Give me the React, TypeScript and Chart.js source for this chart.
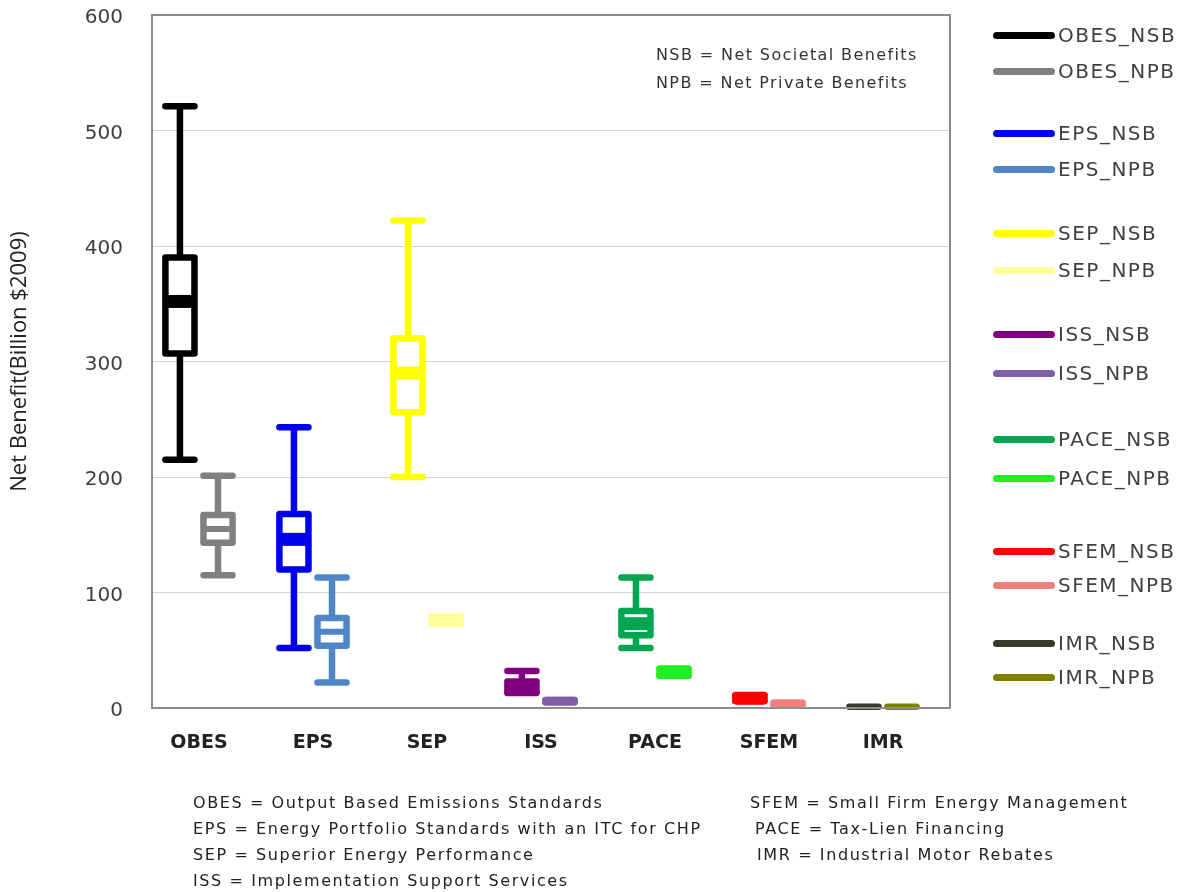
import React, { useEffect, useRef } from "react";
import { Chart, registerables } from "chart.js";

Chart.register(...registerables);

// ---------- data ----------
const categories = ["OBES", "EPS", "SEP", "ISS", "PACE", "SFEM", "IMR"];
const yTickValues = [0, 100, 200, 300, 400, 500, 600];

// Net Societal Benefits (NSB) box statistics, Billion $2009
const nsbMin = [215, 52, 200, 13, 52, 6, 1];
const nsbQ1 = [307, 120, 256, 14, 63, 6, 1];
const nsbMedian = [352, 146, 290, 18, 73, 8.5, 1];
const nsbQ3 = [390, 168, 320, 23, 84, 11, 1];
const nsbMax = [521, 243, 422, 32, 113, 11, 1];

// Net Private Benefits (NPB) box statistics, Billion $2009
const npbMin = [115, 22, 73, 5, 28, 2.5, 1];
const npbQ1 = [143, 54, 73, 5, 28, 2.5, 1];
const npbMedian = [155, 66, 76, 6, 31, 3.5, 1];
const npbQ3 = [167, 78, 79, 7, 34, 4.5, 1];
const npbMax = [201, 113, 79, 7, 34, 4.5, 1];

const nsbColors = ["#000000", "#0000EE", "#FFFF00", "#800080", "#00A650", "#FF0000", "#3A3A2A"];
const npbColors = ["#808080", "#4F86C6", "#FFFF99", "#7F5FA8", "#22EE22", "#F08080", "#808000"];

const legendTops = [35, 71, 133, 169, 233, 270, 334, 373, 439, 478, 551, 585, 643, 677];

const notes = ["NSB = Net Societal Benefits", "NPB = Net Private Benefits"];
const defsLeft = [
  "OBES = Output Based Emissions Standards",
  "EPS = Energy Portfolio Standards with an ITC for CHP",
  "SEP = Superior Energy Performance",
  "ISS = Implementation Support Services",
];
const defsRight = [
  "SFEM = Small Firm Energy Management",
  "PACE = Tax-Lien Financing",
  "IMR = Industrial Motor Rebates",
];

// ---------- layout constants ----------
const W = 1189;
const H = 892;
const NSB_OFFSET = -0.167;
const NPB_OFFSET = 0.167;
const BOX_W = 0.255;
const STROKE = 6.5;

const boxPlugin = {
  id: "boxplots",
  afterDatasetsDraw(chart: any) {
    const { ctx, scales, chartArea } = chart;
    const x = scales.x;
    const y = scales.y;
    const drawBox = (
      i: number,
      off: number,
      mn: number,
      q1: number,
      md: number,
      q3: number,
      mx: number,
      color: string,
      medW: number
    ) => {
      const cx = x.getPixelForValue(i + off);
      const half = (x.getPixelForValue(i + off + BOX_W / 2) - x.getPixelForValue(i + off - BOX_W / 2)) / 2;
      const pMin = y.getPixelForValue(mn);
      const pQ1 = y.getPixelForValue(q1);
      const pMd = y.getPixelForValue(md);
      const pQ3 = y.getPixelForValue(q3);
      const pMax = y.getPixelForValue(mx);
      ctx.save();
      ctx.strokeStyle = color;
      ctx.lineWidth = STROKE;
      ctx.lineCap = "round";
      ctx.lineJoin = "round";
      // whiskers
      ctx.beginPath();
      ctx.moveTo(cx, pMax);
      ctx.lineTo(cx, pQ3);
      ctx.moveTo(cx, pQ1);
      ctx.lineTo(cx, pMin);
      ctx.moveTo(cx - half, pMax);
      ctx.lineTo(cx + half, pMax);
      ctx.moveTo(cx - half, pMin);
      ctx.lineTo(cx + half, pMin);
      ctx.stroke();
      if (q3 > q1) {
        // box
        ctx.fillStyle = "#ffffff";
        ctx.fillRect(cx - half, pQ3, 2 * half, pQ1 - pQ3);
        ctx.lineCap = "butt";
        ctx.strokeRect(cx - half, pQ3, 2 * half, pQ1 - pQ3);
        // median
        ctx.lineWidth = medW;
        ctx.beginPath();
        ctx.moveTo(cx - half, pMd);
        ctx.lineTo(cx + half, pMd);
        ctx.stroke();
      }
      ctx.restore();
    };
    categories.forEach((_, i) => {
      drawBox(i, NSB_OFFSET, nsbMin[i], nsbQ1[i], nsbMedian[i], nsbQ3[i], nsbMax[i], nsbColors[i], 13);
      drawBox(i, NPB_OFFSET, npbMin[i], npbQ1[i], npbMedian[i], npbQ3[i], npbMax[i], npbColors[i], 6);
    });
    // plot-area frame
    ctx.save();
    ctx.strokeStyle = "#8c8c8c";
    ctx.lineWidth = 2;
    ctx.strokeRect(chartArea.left, chartArea.top, chartArea.right - chartArea.left, chartArea.bottom - chartArea.top);
    ctx.restore();
  },
};

function ChartCanvas() {
  const ref = useRef<HTMLCanvasElement | null>(null);
  useEffect(() => {
    if (!ref.current) return;
    const chart = new Chart(ref.current, {
      type: "scatter",
      data: {
        datasets: [
          ...categories.map((c, i) => ({
            label: c + "_NSB",
            data: [],
            borderColor: nsbColors[i],
            backgroundColor: nsbColors[i],
          })),
          ...categories.map((c, i) => ({
            label: c + "_NPB",
            data: [],
            borderColor: npbColors[i],
            backgroundColor: npbColors[i],
          })),
        ],
      },
      options: {
        animation: false,
        responsive: false,
        maintainAspectRatio: false,
        layout: { padding: { top: 15, right: W - 950, bottom: 100, left: 0 } },
        plugins: { legend: { display: false }, tooltip: { enabled: false } },
        scales: {
          x: {
            type: "linear",
            min: -0.412,
            max: 6.588,
            afterBuildTicks: (scale: any) => {
              scale.ticks = categories.map((_, i) => ({ value: i }));
            },
            afterFit: (scale: any) => {
              scale.height = H - 708 - 100;
              scale.paddingLeft = 0;
              scale.paddingRight = 0;
            },
            grid: { display: false, drawTicks: false },
            border: { display: false },
            ticks: {
              autoSkip: false,
              maxRotation: 0,
              padding: 24,
              color: "#222222",
              font: { family: "DejaVu Sans", size: 19, weight: "bold" },
              callback: (v: any) => categories[v as number] ?? "",
            },
          },
          y: {
            type: "linear",
            min: 0,
            max: 600,
            afterBuildTicks: (scale: any) => {
              scale.ticks = yTickValues.map((v) => ({ value: v }));
            },
            afterFit: (scale: any) => {
              scale.width = 152;
              scale.paddingTop = 0;
              scale.paddingBottom = 0;
            },
            grid: { color: "#d4d4d4", lineWidth: 1, drawTicks: false },
            border: { display: false },
            ticks: {
              padding: 29,
              labelOffset: 3,
              color: "#404040",
              font: { family: "DejaVu Sans", size: 20 },
            },
            title: {
              display: true,
              text: "Net Benefit(Billion $2009)",
              color: "#222222",
              font: { family: "Open Sans", size: 22 },
              padding: { top: 7, bottom: 0 },
            },
          },
        },
      },
      plugins: [boxPlugin],
    } as any);
    return () => chart.destroy();
  }, []);
  return <canvas ref={ref} width={W} height={H} style={{ position: "absolute", left: 0, top: 0, width: W, height: H }} />;
}

const textStyle: React.CSSProperties = {
  position: "absolute",
  fontFamily: "DejaVu Sans",
  whiteSpace: "nowrap",
  lineHeight: "20px",
  height: 20,
};

export default function App() {
  const legendItems = categories.flatMap((c, i) => [
    { name: c + "_NSB", color: nsbColors[i] },
    { name: c + "_NPB", color: npbColors[i] },
  ]);
  return (
    <div style={{ position: "absolute", left: 0, top: 0, width: W, height: H, background: "#ffffff", overflow: "hidden" }}>
      <ChartCanvas />
      {legendItems.map((it, k) => (
        <div key={it.name} style={{ position: "absolute", left: 993, top: legendTops[k] - 12, height: 24, display: "flex", alignItems: "center" }}>
          <div style={{ width: 62, height: 7, borderRadius: 4, background: it.color }} />
          <div style={{ fontFamily: "DejaVu Sans", fontSize: 20, color: "#404040", letterSpacing: 1.5, marginLeft: 3, lineHeight: "24px" }}>{it.name}</div>
        </div>
      ))}
      {notes.map((t, k) => (
        <div key={t} style={{ ...textStyle, left: 656, top: 45 + k * 28, fontSize: 16, letterSpacing: 1.4, color: "#333333" }}>{t}</div>
      ))}
      {defsLeft.map((t, k) => (
        <div key={t} style={{ ...textStyle, left: 193, top: 793 + k * 26, fontSize: 16, letterSpacing: 1.6, color: "#222222" }}>{t}</div>
      ))}
      {defsRight.map((t, k) => (
        <div key={t} style={{ ...textStyle, left: [750, 755, 757][k], top: 793 + k * 26, fontSize: 16, letterSpacing: 1.6, color: "#222222" }}>{t}</div>
      ))}
    </div>
  );
}
